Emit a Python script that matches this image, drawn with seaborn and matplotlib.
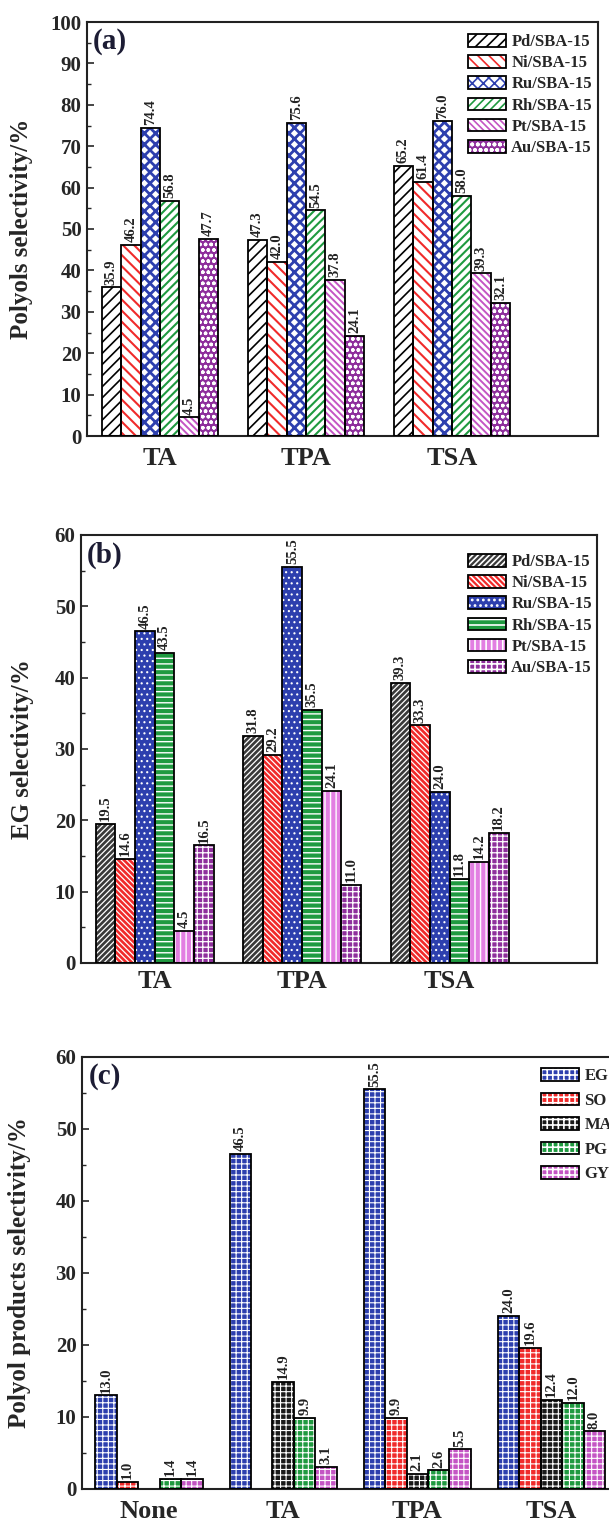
import numpy as np
import pandas as pd
import matplotlib
matplotlib.use('Agg')
import matplotlib.pyplot as plt
import matplotlib.patches as mpatches
from matplotlib.ticker import MultipleLocator
import seaborn as sns

# ---- data ----
acids = ['TA', 'TPA', 'TSA']
catalysts = ['Pd/SBA-15', 'Ni/SBA-15', 'Ru/SBA-15', 'Rh/SBA-15', 'Pt/SBA-15', 'Au/SBA-15']

# (a) polyols selectivity
polyols_pd = [35.9, 47.3, 65.2]
polyols_ni = [46.2, 42.0, 61.4]
polyols_ru = [74.4, 75.6, 76.0]
polyols_rh = [56.8, 54.5, 58.0]
polyols_pt = [4.5, 37.8, 39.3]
polyols_au = [47.7, 24.1, 32.1]

# (b) EG selectivity
eg_pd = [19.5, 31.8, 39.3]
eg_ni = [14.6, 29.2, 33.3]
eg_ru = [46.5, 55.5, 24.0]
eg_rh = [43.5, 35.5, 11.8]
eg_pt = [4.5, 24.1, 14.2]
eg_au = [16.5, 11.0, 18.2]

# (c) polyol products over Ru/SBA-15
additives = ['None', 'TA', 'TPA', 'TSA']
products = ['EG', 'SO', 'MA', 'PG', 'GY']
prod_eg = [13.0, 46.5, 55.5, 24.0]
prod_so = [1.0, np.nan, 9.9, 19.6]
prod_ma = [np.nan, 14.9, 2.1, 12.4]
prod_pg = [1.4, 9.9, 2.6, 12.0]
prod_gy = [1.4, 3.1, 5.5, 8.0]

BLUE = '#2d3fae'
RED = '#f02a2a'
GREEN = '#1f9a40'
MAGENTA = '#c455c4'
PURPLE = '#8e2f9c'


def long_df(cats, names, series):
    rows = []
    for name, vals in zip(names, series):
        for c, v in zip(cats, vals):
            if not np.isnan(v):
                rows.append({'cat': c, 'series': name, 'val': v})
    return pd.DataFrame(rows)


sns.set_theme(style='white')
plt.rcParams['font.family'] = ['Liberation Serif', 'DejaVu Serif']
plt.rcParams['font.weight'] = 'bold'
plt.rcParams['axes.labelweight'] = 'bold'
plt.rcParams['hatch.linewidth'] = 1.2

W, H = 609, 1527
fig = plt.figure(figsize=(W / 100, H / 100), dpi=100)


def axes_px(left, top, right, bottom):
    return fig.add_axes([left / W, 1 - bottom / H, (right - left) / W, (bottom - top) / H])


def draw_panel(ax, df, cats, names, styles, ylim, major, ylabel, letter,
               xlim, leg_anchor, leg_spacing, label_x, xpad):
    sns.barplot(data=df, x='cat', y='val', hue='series', order=cats, hue_order=names,
                palette=[s[0] for s in styles], errorbar=None, width=0.8,
                legend=False, ax=ax)
    for cont, (fc, hc, hatch, hlw) in zip(ax.containers, styles):
        for p in cont.patches:
            p.set_facecolor(fc)
            p.set_edgecolor(hc)
            p.set_hatch(hatch)
            p.set_linewidth(0)
            if hasattr(p, 'set_hatch_linewidth'):
                p.set_hatch_linewidth(hlw)
            ax.add_patch(mpatches.Rectangle(p.get_xy(), p.get_width(), p.get_height(),
                                            fill=False, edgecolor='black', lw=1.3, zorder=3))
        ax.bar_label(cont, fmt='%.1f', rotation=90, padding=2, fontsize=10.5,
                     fontweight='bold', color='#222222')
    ax.set_xlim(*xlim)
    ax.set_ylim(*ylim)
    ax.yaxis.set_major_locator(MultipleLocator(major))
    ax.yaxis.set_minor_locator(MultipleLocator(major / 2))
    ax.tick_params(axis='y', which='major', direction='in', length=5, width=1.2,
                   labelsize=15, left=True, pad=4)
    ax.tick_params(axis='y', which='minor', direction='in', length=3, width=1.0, left=True)
    ax.tick_params(axis='x', length=0, labelsize=19, pad=xpad)
    for t in ax.get_xticklabels() + ax.get_yticklabels():
        t.set_fontweight('bold')
    ax.set_xlabel('')
    ax.set_ylabel(ylabel, fontsize=18, fontweight='bold')
    ax.yaxis.set_label_coords(label_x, 0.5)
    for sp in ax.spines.values():
        sp.set_color('#222222')
        sp.set_linewidth(1.5)
    ax.text(0.012, 0.985, letter, transform=ax.transAxes, ha='left', va='top',
            fontsize=21, fontweight='bold', color='#1c1c34')
    handles = []
    for fc, hc, hatch, hlw in styles:
        base = mpatches.Patch(facecolor=fc, edgecolor=hc, hatch=hatch, linewidth=0)
        if hasattr(base, 'set_hatch_linewidth'):
            base.set_hatch_linewidth(hlw)
        edge = mpatches.Patch(fill=False, edgecolor='black', linewidth=1.3)
        handles.append((base, edge))
    ax.legend(handles, names, loc='upper left', bbox_to_anchor=leg_anchor,
              bbox_transform=fig.transFigure, frameon=False,
              handlelength=2.3, handleheight=0.8, handletextpad=0.3,
              labelspacing=leg_spacing, borderpad=0, borderaxespad=0,
              prop={'weight': 'bold', 'size': 12})


# ---- (a) ----
ax_a = axes_px(87, 22, 598, 436)
df_a = long_df(acids, catalysts, [polyols_pd, polyols_ni, polyols_ru,
                                  polyols_rh, polyols_pt, polyols_au])
styles_a = [('white', 'black', '///', 1.2),
            ('white', RED, '\\\\\\', 1.5),
            ('white', BLUE, 'xxx', 2.0),
            ('white', GREEN, '////', 1.5),
            ('white', MAGENTA, '\\\\\\\\\\', 1.4),
            (PURPLE, 'white', 'ooo', 1.0)]
draw_panel(ax_a, df_a, acids, catalysts, styles_a, (0, 100), 10,
           'Polyols selectivity/%', '(a)', (-0.5, 3.0),
           (468 / W, 1 - 34 / H), 0.3, -0.105, 8)

# ---- (b) ----
ax_b = axes_px(81, 535, 597, 963)
df_b = long_df(acids, catalysts, [eg_pd, eg_ni, eg_ru, eg_rh, eg_pt, eg_au])
styles_b = [('#3a3a3a', 'white', '//////', 0.9),
            (RED, 'white', '\\\\\\\\\\\\', 0.9),
            (BLUE, 'white', '...', 0.8),
            (GREEN, 'white', '---', 1.0),
            ('#e27fe2', 'white', '|||', 1.0),
            (PURPLE, 'white', '+++', 0.9)]
draw_panel(ax_b, df_b, acids, catalysts, styles_b, (0, 60), 10,
           'EG selectivity/%', '(b)', (-0.5, 3.0),
           (468 / W, 1 - 554 / H), 0.3, -0.092, 5)

# ---- (c) ----
ax_c = axes_px(82, 1057, 82 + 570, 1489)
df_c = long_df(additives, products, [prod_eg, prod_so, prod_ma, prod_pg, prod_gy])
styles_c = [(BLUE, 'white', '+++', 0.8),
            (RED, 'white', '+++', 0.8),
            ('#1a1a1a', 'white', '+++', 0.8),
            (GREEN, 'white', '+++', 0.8),
            (MAGENTA, 'white', '+++', 0.8)]
draw_panel(ax_c, df_c, additives, products, styles_c, (0, 60), 10,
           'Polyol products selectivity/%', '(c)', (-0.5, 3.75),
           (541 / W, 1 - 1068 / H), 0.5, -0.09, 8)

fig.savefig('out.png', dpi=100)
